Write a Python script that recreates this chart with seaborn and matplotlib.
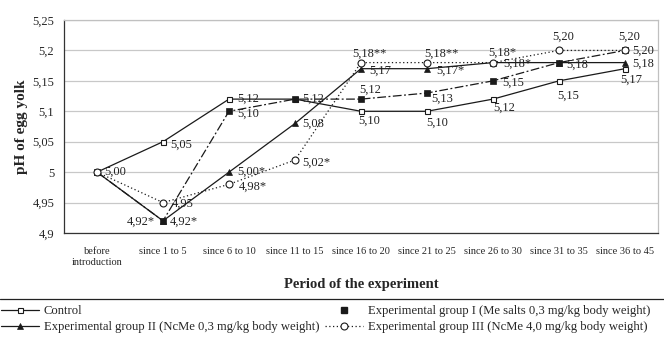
import numpy as np
import pandas as pd
import seaborn as sns
import matplotlib.pyplot as plt
from matplotlib.lines import Line2D

# Categories and measured pH values
periods = ["before\nintroduction", "since 1 to 5", "since 6 to 10", "since 11 to 15",
           "since 16 to 20", "since 21 to 25", "since 26 to 30", "since 31 to 35",
           "since 36 to 45"]
control = [5.00, 5.05, 5.12, 5.12, 5.10, 5.10, 5.12, 5.15, 5.17]
group_1 = [5.00, 4.92, 5.10, 5.12, 5.12, 5.13, 5.15, 5.18, 5.20]
group_2 = [5.00, 4.92, 5.00, 5.08, 5.17, 5.17, 5.18, 5.18, 5.18]
group_3 = [5.00, 4.95, 4.98, 5.02, 5.18, 5.18, 5.18, 5.20, 5.20]

# Data labels as printed on the chart ("" = no label)
control_lbl = ["5,00", "5,05", "5,12", "5,12", "5,10", "5,10", "5,12", "5,15", "5,17"]
group_1_lbl = ["", "4,92*", "5,10", "", "5,12", "5,13", "5,15", "5,18", "5,20"]
group_2_lbl = ["", "4,92*", "5,00*", "5,08", "5,17", "5,17*", "5,18*", "", "5,18"]
group_3_lbl = ["", "4,95", "4,98*", "5,02*", "5,18**", "5,18**", "5,18*", "5,20", "5,20"]

y_ticks = [4.9, 4.95, 5.0, 5.05, 5.1, 5.15, 5.2, 5.25]
y_ticklabels = ["4,9", "4,95", "5", "5,05", "5,1", "5,15", "5,2", "5,25"]

names = ["Control",
         "Experimental group I (Me salts 0,3 mg/kg body weight)",
         "Experimental group II (NcMe 0,3 mg/kg body weight)",
         "Experimental group III (NcMe 4,0 mg/kg body weight)"]

# label placement (pixel offsets of the label centre from the point, +dy = down)
control_off = [(18, 0), (18, 3), (19, 0), (18, 0), (8, 9), (10, 11), (11, 9), (9, 15), (6, 11)]
group_1_off = [(0, 0), (-22, 1), (19, 2), (0, 0), (9, -9), (15, 6), (20, 2), (18, 2), (18, 0)]
group_2_off = [(0, 0), (21, 1), (22, 0), (18, 0), (19, 2), (23, 2), (24, 1), (0, 0), (18, 1)]
group_3_off = [(0, 0), (20, 1), (24, 2), (21, 3), (8, -9), (14, -9), (9, -10), (4, -14), (4, -14)]

sns.set_style("white")
plt.rcParams['font.family'] = ['Liberation Serif', 'DejaVu Serif']

fig = plt.figure(figsize=(6.64, 3.37), dpi=100)
ax = fig.add_axes([64 / 664, 1 - 233 / 337, 594 / 664, 213 / 337])

x = np.arange(len(periods))
ink = "#1a1a1a"
styles = [
    dict(linestyle="-", marker="s", markersize=3.6, markerfacecolor="white", markeredgewidth=0.8),
    dict(linestyle=(0, (7, 2, 1.5, 2)), marker="s", markersize=4, markerfacecolor=ink, markeredgewidth=0.5),
    dict(linestyle="-", marker="^", markersize=4, markerfacecolor=ink, markeredgewidth=0.5),
    dict(linestyle=(0, (1, 2)), marker="o", markersize=5, markerfacecolor="white", markeredgewidth=0.8),
]
series = [control, group_1, group_2, group_3]
labels = [control_lbl, group_1_lbl, group_2_lbl, group_3_lbl]
offsets = [control_off, group_1_off, group_2_off, group_3_off]

df = pd.DataFrame({"x": np.tile(x, 4), "pH": np.concatenate(series),
                   "group": np.repeat(names, len(x))})

for name, st in zip(names, styles):
    sub = df[df["group"] == name]
    sns.lineplot(data=sub, x="x", y="pH", color=ink, linewidth=0.9,
                 markeredgecolor=ink, ax=ax, legend=False, **st)

for vals, lbls, offs in zip(series, labels, offsets):
    for xi, v, t, (dx, dy) in zip(x, vals, lbls, offs):
        if t:
            ax.annotate(t, (xi, v), xytext=(dx, -dy), textcoords="offset pixels",
                        ha="center", va="center", fontsize=9, color="#222222")

ax.set_xlim(-0.5, len(periods) - 0.5)
ax.set_ylim(4.9, 5.25)
ax.set_yticks(y_ticks)
ax.set_yticklabels(y_ticklabels, fontsize=9)
ax.set_xticks(np.arange(len(periods) + 1) - 0.5)
ax.set_xticklabels([])
ax.set_xticks(x, minor=True)
ax.set_xticklabels(periods, minor=True, fontsize=7.5, linespacing=1.3)
ax.tick_params(axis="x", which="major", direction="out", length=4, width=0.8, color="#333333")
ax.tick_params(axis="x", which="minor", length=0, pad=10)
ax.tick_params(axis="y", direction="out", length=3, width=0.8, color="#333333", pad=4)
ax.grid(axis="y", color="#c8c8c8", linewidth=0.9)
ax.set_axisbelow(True)
for side in ["left", "bottom"]:
    ax.spines[side].set_color("#333333")
    ax.spines[side].set_linewidth(0.9)
for side in ["top", "right"]:
    ax.spines[side].set_color("#c0c0c0")
    ax.spines[side].set_linewidth(0.9)

ax.set_xlabel("Period of the experiment", fontsize=10.5, fontweight="bold", labelpad=8)
ax.set_ylabel("pH of egg yolk", fontsize=11, fontweight="bold", labelpad=3)

# legend: column-major order -> Control, II | I, III
handles = []
for st in styles:
    handles.append(Line2D([], [], color=ink, linewidth=0.9, markeredgecolor=ink, **st))
handles[1] = Line2D([], [], color=ink, linestyle="none", marker="s", markersize=4,
                    markerfacecolor=ink, markeredgecolor=ink)
order = [0, 2, 1, 3]
fig.legend([handles[i] for i in order], [names[i] for i in order], ncol=2,
           loc="upper left", bbox_to_anchor=(0.0, 1 - 304 / 337), frameon=False,
           fontsize=9.1, handlelength=3.0, handletextpad=0.35, columnspacing=0.5,
           labelspacing=0.3, borderaxespad=0.0, borderpad=0.1)
fig.add_artist(Line2D([0, 1], [1 - 299 / 337] * 2, color="#222222", linewidth=0.9,
                      transform=fig.transFigure))

fig.savefig("out.png", dpi=100)
